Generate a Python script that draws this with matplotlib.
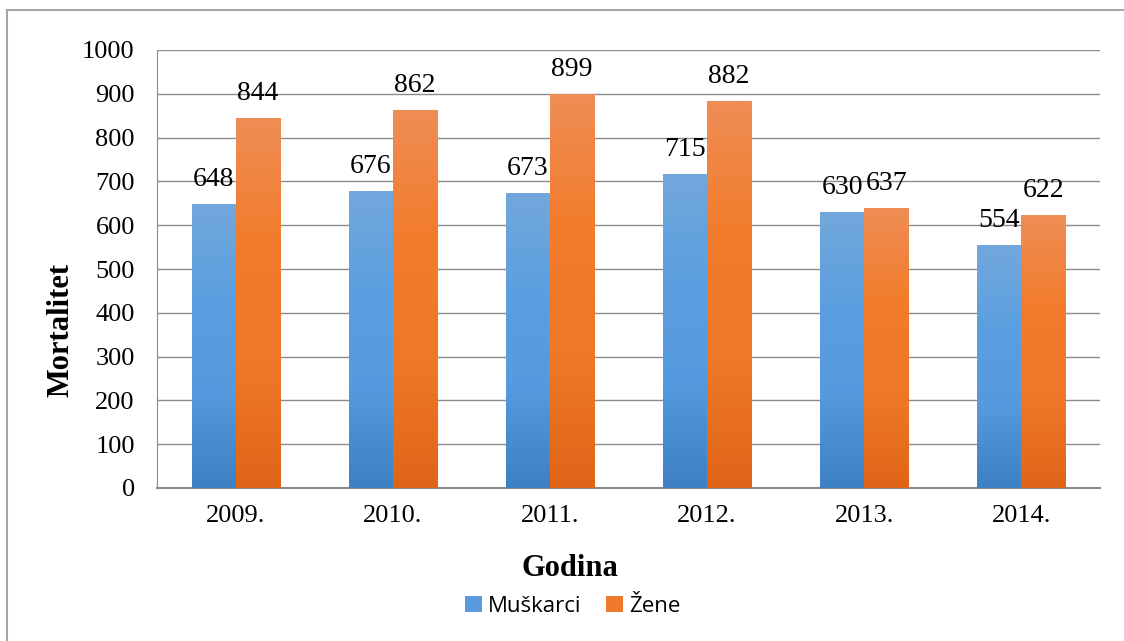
import numpy as np
import matplotlib.pyplot as plt
from matplotlib.colors import LinearSegmentedColormap
from matplotlib.lines import Line2D
from matplotlib.patches import Patch

# Data
years = ['2009.', '2010.', '2011.', '2012.', '2013.', '2014.']
muskarci = [648, 676, 673, 715, 630, 554]
zene = [844, 862, 899, 882, 637, 622]

plt.rcParams['font.family'] = ['Liberation Serif', 'DejaVu Serif']

fig = plt.figure(figsize=(11.24, 6.41), dpi=100)
ax = fig.add_axes([157 / 1124, 1 - 488 / 641, (1100 - 157) / 1124, (488 - 50) / 641])

# figure border (left and top only visible)
fig.add_artist(Line2D([7 / 1124, 7 / 1124], [0, 1 - 10 / 641], color='#a6a6a6', lw=1.5,
                      transform=fig.transFigure))
fig.add_artist(Line2D([7 / 1124, 1], [1 - 10 / 641, 1 - 10 / 641], color='#a6a6a6', lw=1.5,
                      transform=fig.transFigure))

blue_cmap = LinearSegmentedColormap.from_list('b', ['#3d80c4', '#559ade', '#5c9fe0', '#72a8dc'])
orange_cmap = LinearSegmentedColormap.from_list('o', ['#e06418', '#ef7828', '#f27c2c', '#ef8d55'])

x = np.arange(len(years))
w = 0.28
grad = np.linspace(0, 1, 256).reshape(-1, 1)


def grad_bar(xc, h, cmap):
    ax.imshow(grad, extent=[xc - w / 2, xc + w / 2, 0, h], origin='lower',
              cmap=cmap, aspect='auto', zorder=3, interpolation='bilinear')


for i in range(len(years)):
    grad_bar(x[i] - w / 2, muskarci[i], blue_cmap)
    grad_bar(x[i] + w / 2, zene[i], orange_cmap)
    ax.annotate(str(muskarci[i]), (x[i] - w / 2, muskarci[i]), xytext=(0, 9),
                textcoords='offset points', ha='center', va='bottom', fontsize=20, zorder=4)
    ax.annotate(str(zene[i]), (x[i] + w / 2, zene[i]), xytext=(0, 9),
                textcoords='offset points', ha='center', va='bottom', fontsize=20, zorder=4)

ax.set_xlim(-0.5, len(years) - 0.5)
ax.set_ylim(0, 1000)
ax.set_yticks(range(0, 1001, 100))
ax.set_xticks(x)
ax.set_xticklabels(years)
ax.tick_params(axis='both', labelsize=19, length=0)
ax.tick_params(axis='x', pad=12)
ax.tick_params(axis='y', pad=16)
ax.grid(axis='y', color='#8c8c8c', lw=1, zorder=0)
ax.set_axisbelow(True)
for s in ['top', 'right']:
    ax.spines[s].set_visible(False)
ax.spines['left'].set_color('#8c8c8c')
ax.spines['bottom'].set_color('#8c8c8c')
ax.spines['bottom'].set_linewidth(1.5)

fig.text(61 / 1124, 1 - 330 / 641, 'Mortalitet', fontsize=22, fontweight='bold',
         ha='center', va='center', rotation=90)
fig.text(570 / 1124, 1 - 568 / 641, 'Godina', fontsize=22, fontweight='bold',
         ha='center', va='center')

handles = [Patch(facecolor='#5a9be0', label='Muškarci'),
           Patch(facecolor='#f07a2c', label='Žene')]
fig.legend(handles=handles, loc='center', bbox_to_anchor=(573 / 1124, 1 - 606 / 641), ncol=2,
           frameon=False, prop={'family': 'Open Sans', 'size': 16}, handlelength=0.75,
           handleheight=0.75, handletextpad=0.3, columnspacing=1.1)

fig.savefig('out.png', dpi=100)
